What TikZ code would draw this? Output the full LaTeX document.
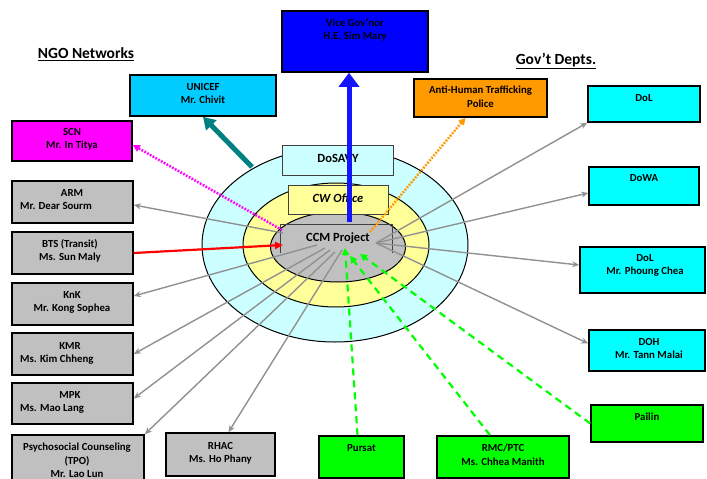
\documentclass[tikz,border=0pt]{standalone}
\usepackage{fontspec}
\setmainfont{Carlito}
\usetikzlibrary{shapes.geometric,arrows.meta}
\definecolor{cVG}{RGB}{0,0,255}
\definecolor{cUN}{RGB}{0,204,255}
\definecolor{cMag}{RGB}{255,0,255}
\definecolor{cOr}{RGB}{255,153,0}
\definecolor{cCy}{RGB}{0,255,255}
\definecolor{cGr}{RGB}{0,255,0}
\definecolor{cGy}{RGB}{192,192,192}
\definecolor{cLine}{RGB}{145,145,145}
\definecolor{cOut}{RGB}{204,255,255}
\definecolor{cYel}{RGB}{255,255,153}
\definecolor{cTeal}{RGB}{0,128,128}
\definecolor{cArrB}{RGB}{20,20,255}
\begin{document}
\begin{tikzpicture}[x=1pt,y=-1pt,
  box/.style={draw=black,line width=1.6pt,inner sep=0pt},
  txt/.style={anchor=north,align=center,inner sep=0pt,font=\bfseries\fontsize{10.8}{13.5}\selectfont},
  txtl/.style={anchor=north west,inner sep=0pt,font=\bfseries\fontsize{10.8}{13.5}\selectfont},
  title/.style={inner sep=0pt,font=\bfseries\fontsize{15.5}{18}\selectfont},
  ring/.style={ellipse,draw=black,line width=1pt,inner sep=0pt},
  inner/.style={inner sep=0pt,font=\bfseries\fontsize{12.5}{14}\selectfont},
  grayarr/.style={draw=cLine,line width=1.4pt,-{Stealth[length=7pt,width=6pt]}},
  greenarr/.style={draw=cGr,line width=2.2pt,dash pattern=on 7pt off 5pt,-{Triangle[length=7pt,width=7pt]}},
  dotarr/.style={line width=2.6pt,dash pattern=on 1.6pt off 1.6pt,-{Triangle[length=7pt,width=7pt]}}
]
\useasboundingbox (0,0) rectangle (707,479);
\fill[white] (0,0) rectangle (707,479);

% rings
\node[ring,fill=cOut,minimum width=266pt,minimum height=194pt] (outer) at (335,245) {};
\node[ring,fill=cYel,minimum width=186pt,minimum height=124pt] (mid) at (336,245) {};
\node[ring,fill=cGy,minimum width=135pt,minimum height=70pt] (core) at (338,247) {};

% inner boxes
\node[draw=black!75,line width=0.8pt,fill=cOut,minimum width=111pt,minimum height=30pt,inner sep=0pt] (dosavy) at (337.5,160) {};
\node[inner] (dosavyT) at (338,158) {DoSAVY};
\node[draw=black!75,line width=0.8pt,fill=cYel,minimum width=100pt,minimum height=29pt,inner sep=0pt] (cwo) at (338,199.5) {};
\node[inner,font=\bfseries\itshape\fontsize{12.5}{14}\selectfont] (cwoT) at (338,198) {CW Office};
\node[minimum width=111pt,minimum height=28pt,inner sep=0pt] (ccm) at (336.5,239) {};
\draw[black!75,line width=0.8pt] (ccm.south west) -- (ccm.north west) -- (ccm.north east) -- (ccm.south east);
\node[inner] (ccmT) at (338,238) {CCM Project};

% connector ends
\coordinate (blueS) at (349,222);
\coordinate (tealS) at (252,167);
\coordinate (magS) at (282,230);
\coordinate (orS) at (370,232);
\coordinate (redE) at (283,245);
\coordinate (R) at (376,243);
\coordinate (Larm) at (283,233);
\coordinate (Lknk) at (317,245);
\coordinate (Lkmr) at (325,248);
\coordinate (Lmpk) at (330,250);
\coordinate (Ltpo) at (335,252);
\coordinate (Lrhac) at (342,250);
\coordinate (gP) at (345,248);
\coordinate (gR) at (350,256);
\coordinate (gL) at (360,254);

% outer boxes
\node[box,fill=cVG,minimum width=146pt,minimum height=61pt] (vg) at (355,41.5) {};
\node[txt] (vgT) at (355,18) {Vice Gov’nor\\H.E. Sim Mary};
\node[box,fill=cUN,minimum width=146pt,minimum height=41pt] (unicef) at (203,95.5) {};
\node[txt] (unicefT) at (203,83) {UNICEF\\Mr. Chivit};
\node[box,fill=cMag,minimum width=120pt,minimum height=40pt] (scn) at (72,141) {};
\node[txt] (scnT) at (72,128) {SCN\\Mr. In Titya};
\node[box,fill=cOr,minimum width=133pt,minimum height=38pt] (anti) at (480.5,98) {};
\node[txt] (antiT) at (480.5,86) {Anti-Human Trafficking\\Police};
\node[box,fill=cCy,minimum width=112pt,minimum height=36pt] (dol) at (644,104) {};
\node[txt] (dolT) at (644,94) {DoL};
\node[box,fill=cCy,minimum width=110pt,minimum height=38pt] (dowa) at (644,186) {};
\node[txt] (dowaT) at (644,174) {DoWA};
\node[box,fill=cCy,minimum width=125pt,minimum height=46pt] (dolp) at (642.5,270) {};
\node[txt] (dolpT) at (645,254) {DoL\\Mr. Phoung Chea};
\node[box,fill=cCy,minimum width=116pt,minimum height=41pt] (doh) at (647,350.5) {};
\node[txt] (dohT) at (649,338) {DOH\\Mr. Tann Malai};
\node[box,fill=cGr,minimum width=112pt,minimum height=37pt] (pailin) at (647,423.5) {};
\node[txt] (pailinT) at (647,413) {Pailin};
\node[box,fill=cGr,minimum width=85pt,minimum height=42pt] (pursat) at (361.5,457) {};
\node[txt] (pursatT) at (361.5,444) {Pursat};
\node[box,fill=cGr,minimum width=132pt,minimum height=42pt] (rmc) at (503,457) {};
\node[txt] (rmcT) at (503,444) {RMC/PTC\\Ms. Chhea Manith};
\node[box,fill=cGy,minimum width=109pt,minimum height=43pt] (rhac) at (220.5,454.5) {};
\node[txt] (rhacT) at (220.5,442) {RHAC\\Ms. Ho Phany};
\node[box,fill=cGy,minimum width=132pt,minimum height=55pt] (tpo) at (78,462.5) {};
\node[txt] (tpoT) at (77,443) {Psychosocial Counseling\\(TPO)\\Mr. Lao Lun};
\node[box,fill=cGy,minimum width=121pt,minimum height=41pt] (mpk) at (72.5,403.5) {};
\node[txt] (mpkT) at (70,391) {MPK};
\node[txtl] (mpkT2) at (20,404) {Ms. Mao Lang};
\node[box,fill=cGy,minimum width=121pt,minimum height=42pt] (kmr) at (72.5,354) {};
\node[txt] (kmrT) at (70,342) {KMR};
\node[txtl] (kmrT2) at (20,355) {Ms. Kim Chheng};
\node[box,fill=cGy,minimum width=121pt,minimum height=42pt] (knk) at (72.5,304) {};
\node[txt] (knkT) at (72,291) {KnK\\Mr. Kong Sophea};
\node[box,fill=cGy,minimum width=121pt,minimum height=42pt] (bts) at (72.5,253) {};
\node[txt] (btsT) at (70,239) {BTS (Transit)\\Ms. Sun Maly};
\node[box,fill=cGy,minimum width=121pt,minimum height=42pt] (arm) at (72.5,202) {};
\node[txt] (armT) at (72,189) {ARM};
\node[txtl] (armT2) at (20,202) {Mr. Dear Sourm};

% titles
\node[title] (ngoT) at (86,54) {\underline{NGO Networks}};
\node[title] (govT) at (556,61) {\underline{Gov’t Depts.}};

% connectors
\draw[grayarr] (R) -- (dol.south west);
\draw[grayarr] (R) -- ([yshift=-7pt]dowa.west);
\draw[grayarr] (R) -- ([yshift=5pt]dolp.west);
\draw[grayarr] (R) -- ([yshift=7pt]doh.west);
\draw[grayarr] (Larm) -- ([yshift=-3pt]arm.east);
\draw[grayarr] (Lknk) -- ([yshift=8pt]knk.east);
\draw[grayarr] (Lkmr) -- (kmr.east);
\draw[grayarr] (Lmpk) -- ([yshift=5pt]mpk.east);
\draw[grayarr] (Ltpo) -- (tpo.north east);
\draw[grayarr] (Lrhac) -- ([xshift=8pt]rhac.north);
\draw[greenarr] ([xshift=-4pt]pursat.north) -- (gP);
\draw[greenarr] ([xshift=-13pt]rmc.north) -- (gR);
\draw[greenarr] (pailin.west) -- (gL);
\draw[dotarr,draw=cMag,fill=cMag] (magS) -- ([yshift=-4pt]scn.east);
\draw[dotarr,draw=cOr,fill=cOr] (orS) -- ([xshift=-15pt]anti.south);
\draw[draw=red,line width=2.2pt,-{Triangle[length=8pt,width=7pt]}] (bts.east) -- (redE);
\draw[draw=cTeal,line width=5pt,-{Triangle[length=12pt,width=14pt]}] (tealS) -- (unicef.south);
\draw[draw=cArrB,line width=5pt,-{Triangle[length=14pt,width=20pt]}] (blueS) -- (vg.south -| blueS);
\end{tikzpicture}
\end{document}
